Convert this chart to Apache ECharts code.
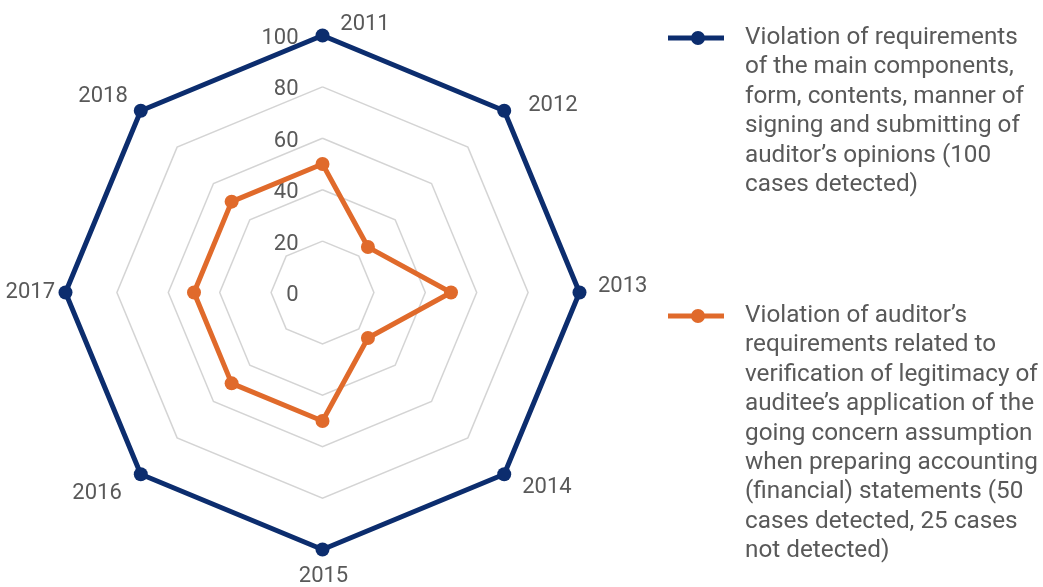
<!DOCTYPE html>
<html>
<head>
<meta charset="utf-8">
<style>
  html, body { margin: 0; padding: 0; background: #ffffff; }
  #chart { width: 1043px; height: 587px; }
</style>
<script src="https://cdn.jsdelivr.net/npm/echarts@6/dist/echarts.min.js"></script>
</head>
<body>
<div id="chart"></div>
<script>
// ---- data ----
const years = ['2011', '2012', '2013', '2014', '2015', '2016', '2017', '2018'];
const tickLabels = [0, 20, 40, 60, 80, 100];
const mainComponentsLines = [
  'Violation of requirements',
  'of the main components,',
  'form, contents, manner of',
  'signing and submitting of',
  'auditor\u2019s opinions (100',
  'cases detected)'
];
const goingConcernLines = [
  'Violation of auditor\u2019s',
  'requirements related to',
  'verification of legitimacy of',
  'auditee\u2019s application of the',
  'going concern assumption',
  'when preparing accounting',
  '(financial) statements (50',
  'cases detected, 25 cases',
  'not detected)'
];
const mainComponentsValues = [100, 100, 100, 100, 100, 100, 100, 100];
const goingConcernValues = [50, 25, 50, 25, 50, 50, 50, 50];

// ---- styles ----
const BLUE = '#0c2d6e';
const ORANGE = '#e06a2b';
const TEXT = '#595959';
const FONT = 'Roboto';
const LH = 29.4;
// per-year padding [top, right, bottom, left] to nudge the year labels
const namePads = {
  '2011': [0, 0, 0, 85],
  '2012': [0, 0, 9.6, 24],
  '2013': [0, 0, 13, 18.5],
  '2014': [25.6, 0, 0, 18],
  '2015': [16, 0, 0, 2],
  '2016': [37.6, 19, 0, 0],
  '2017': [0, 10.5, 0, 0],
  '2018': [0, 13, 27.6, 0]
};

// ECharts lays radar indicators counter-clockwise; the reference runs clockwise.
const order = [0].concat(years.slice(1).map((y, i) => years.length - 1 - i));
const shownYears = order.map(i => years[i]);
const reorder = arr => order.map(i => arr[i]);

const name1 = mainComponentsLines.join('\n');
const name2 = goingConcernLines.join('\n');
const legendIcon = 'path://M0,4.5L56,4.5L56,9.5L0,9.5Z M37,7A7,7 0 1,1 23,7A7,7 0 1,1 37,7Z';

const rich = {};
shownYears.forEach((y, i) => {
  rich['n' + i] = { fontSize: 22, fontFamily: FONT, color: TEXT, padding: namePads[y] };
});

function legendFor(name, lines, color, firstLineY) {
  const n = lines.length;
  return {
    orient: 'vertical',
    left: 668,
    top: firstLineY - (2 * n - 1) * LH / 2,
    padding: 0,
    itemWidth: 56,
    itemHeight: 14,
    selectedMode: false,
    data: [{
      name: name,
      icon: legendIcon,
      itemStyle: { color: color, borderWidth: 0 }
    }],
    // leading blank lines so the first text line sits level with the icon
    formatter: function (nm) {
      return ' \n'.repeat(n - 1) + nm;
    },
    textStyle: {
      fontSize: 24.3,
      fontFamily: FONT,
      color: TEXT,
      lineHeight: LH,
      padding: [0, 0, 0, 16]
    }
  };
}

const chart = echarts.init(document.getElementById('chart'), null, { renderer: 'canvas' });
chart.setOption({
  animation: false,
  backgroundColor: '#ffffff',
  legend: [
    legendFor(name1, mainComponentsLines, BLUE, 38),
    legendFor(name2, goingConcernLines, ORANGE, 316)
  ],
  radar: {
    center: [322.5, 292.5],
    radius: 257,
    startAngle: 90,
    splitNumber: tickLabels.length - 1,
    shape: 'polygon',
    nameGap: 0,
    axisName: {
      formatter: function (name) {
        return '{n' + shownYears.indexOf(name) + '|' + name + '}';
      },
      rich: rich,
      color: TEXT,
      fontSize: 22,
      fontFamily: FONT
    },
    axisLine: { show: false },
    axisTick: { show: false },
    splitArea: { show: false },
    splitLine: { lineStyle: { color: '#d4d4d4', width: 1.5 } },
    indicator: shownYears.map((y, i) => {
      const ind = { name: y, min: tickLabels[0], max: tickLabels[tickLabels.length - 1] };
      if (i === 0) {
        ind.axisLabel = {
          show: true,
          margin: 24,
          formatter: function (v) { return '{v|' + v + '}'; },
          rich: { v: { fontSize: 22, fontFamily: FONT, color: TEXT, padding: [6, 0, 0, 0] } },
          fontSize: 22,
          fontFamily: FONT,
          color: TEXT
        };
      }
      return ind;
    })
  },
  series: [{
    type: 'radar',
    symbol: 'circle',
    symbolSize: 14,
    data: [
      {
        name: name1,
        value: reorder(mainComponentsValues),
        itemStyle: { color: BLUE },
        lineStyle: { color: BLUE, width: 5 }
      },
      {
        name: name2,
        value: reorder(goingConcernValues),
        itemStyle: { color: ORANGE },
        lineStyle: { color: ORANGE, width: 5 }
      }
    ]
  }]
});
</script>
</body>
</html>
